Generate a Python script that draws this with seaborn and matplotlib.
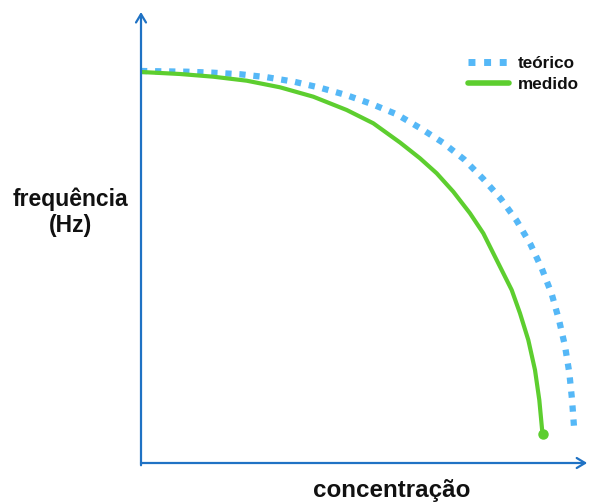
import numpy as np
import pandas as pd
import matplotlib
matplotlib.use("Agg")
import matplotlib.pyplot as plt
import seaborn as sns

# --- data (arbitrary units) ---
teorico_x = [0, 45.7, 72, 99.7, 126.3, 153, 179, 205, 230.7, 255.7, 279, 302, 323, 342.3,
             360, 375.7, 389.7, 400.7, 410.7, 418, 424, 428.3, 431, 433, 433.5]
teorico_y = [392, 391.3, 390.3, 388.7, 385.7, 381.3, 375.3, 368, 359, 348.7, 335, 320.3, 303.7, 284,
             264, 242.3, 218.3, 194.7, 169, 143, 117, 90.3, 63.7, 36.3, 32]
medido_x = [0, 39, 72.3, 105.7, 139, 172.3, 205.7, 232.3, 259, 279, 295.7, 312.3, 329, 342.3,
            354, 370.7, 379, 387.3, 394, 398.3, 401.5]
medido_y = [391, 389, 386.3, 382.3, 375.7, 366.3, 353, 339.7, 320.5, 304.7, 289.7, 271.3, 249.7, 229.7,
            206.3, 173, 149.7, 123, 93, 63, 29]
series_labels = ["teórico", "medido"]
x_label = "concentração"
y_label = "frequência\n(Hz)"

sns.set_theme(style="white")
plt.rcParams['font.family'] = ['Liberation Sans', 'DejaVu Sans']

W, H = 589, 504
fig = plt.figure(figsize=(W / 100, H / 100), dpi=100)
ax = fig.add_axes([141 / W, (H - 463) / H, (W - 141) / W, (463 - 12) / H])
ax.set_xlim(0, 448)
ax.set_ylim(0, 451)

df_t = pd.DataFrame({"x": teorico_x, "y": teorico_y})
df_m = pd.DataFrame({"x": medido_x, "y": medido_y})

blue = "#55b8f7"
green = "#5dce2f"
axis_col = "#1f72c4"

sns.lineplot(data=df_t, x="x", y="y", ax=ax, sort=False, color=blue, lw=4.5,
             linestyle=(0, (1, 1.25)), dash_capstyle="butt", label=series_labels[0])
sns.lineplot(data=df_m, x="x", y="y", ax=ax, sort=False, color=green, lw=3.0,
             solid_capstyle="round", solid_joinstyle="round", label=series_labels[1])
ax.plot([medido_x[-1]], [medido_y[-1]], "o", color=green, ms=6.5, zorder=3)

for s in ax.spines.values():
    s.set_visible(False)
ax.set_xticks([])
ax.set_yticks([])
ax.set_xlabel("")
ax.set_ylabel("")

# axes with arrows
ax.annotate("", xy=(0, 1.0), xytext=(0, -0.005), xycoords="axes fraction",
            arrowprops=dict(arrowstyle="->,head_length=0.5,head_width=0.3", color=axis_col, lw=1.6,
                            shrinkA=0, shrinkB=0), annotation_clip=False)
ax.annotate("", xy=(0.996, 0), xytext=(0, 0), xycoords="axes fraction",
            arrowprops=dict(arrowstyle="->,head_length=0.5,head_width=0.3", color=axis_col, lw=1.6,
                            shrinkA=0, shrinkB=0), annotation_clip=False)

fig.text(70 / W, 1 - 212 / H, y_label, ha="center", va="center", fontsize=16.5,
         fontweight="bold", color="#111111", linespacing=1.15)
fig.text(392 / W, 1 - 491 / H, x_label, ha="center", va="center", fontsize=17.4,
         fontweight="bold", color="#111111")

leg = ax.legend(loc="upper left", bbox_to_anchor=(468 / W, 1 - 56 / H), bbox_transform=fig.transFigure,
                frameon=False, fontsize=12.3, handlelength=2.4, handletextpad=0.5,
                labelspacing=0.35, borderaxespad=0, borderpad=0)
for t in leg.get_texts():
    t.set_fontweight("bold")
    t.set_color("#111111")
hl = leg.get_lines()
hl[0].set_linewidth(5)
hl[1].set_linewidth(4)
hl[1].set_solid_capstyle("round")

fig.savefig("out.png", dpi=100)
